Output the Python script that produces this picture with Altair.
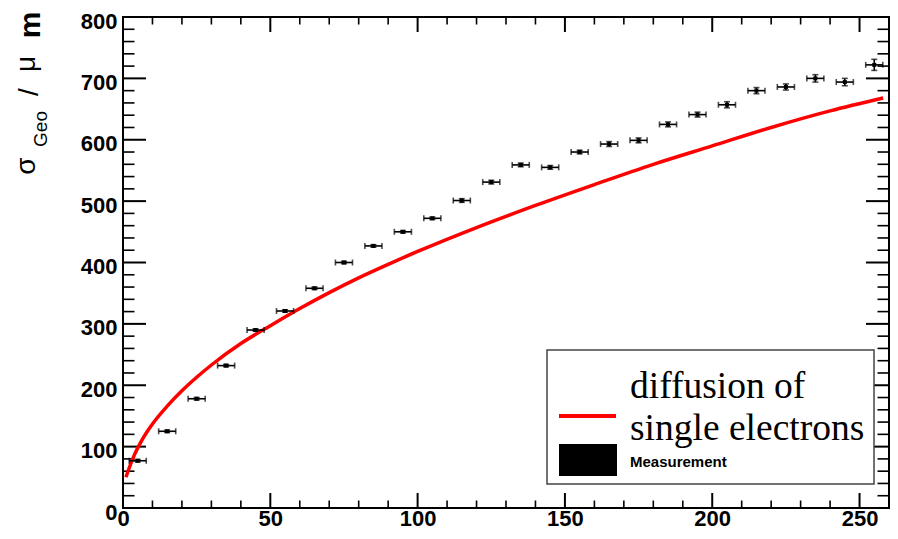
import altair as alt
import pandas as pd

# ---- data ----
meas_x = [5, 15, 25, 35, 45, 55, 65, 75, 85, 95, 105, 115, 125, 135, 145, 155,
          165, 175, 185, 195, 205, 215, 225, 235, 245, 255]
meas_y = [77, 125, 178, 232, 290, 321, 358, 400, 427, 450, 472, 501, 531, 559, 555, 580,
          593, 599, 625, 641, 657, 680, 686, 700, 694, 722]
meas_xerr = [2.9] * 26
meas_yerr = [2, 2, 2, 2, 2, 2, 2, 2, 2, 2, 2, 3, 3, 3, 3, 3, 4, 4, 4, 4, 5, 5, 5, 6, 6, 9]

curve_x = [1, 2, 4, 6, 8, 10, 15, 20, 25, 30, 40, 50, 60, 70, 80, 90, 100, 120, 140,
           160, 180, 200, 220, 240, 258]
curve_y = [50, 64, 88, 107, 123, 137, 166, 191, 213, 233, 268, 297, 325, 351, 375, 397,
           418, 457, 493, 527, 560, 590, 620, 647, 668]

x_major = [0, 50, 100, 150, 200, 250]
x_minor = [v for v in range(10, 261, 10) if v % 50 != 0]
y_major = [0, 100, 200, 300, 400, 500, 600, 700, 800]
y_minor = [v for v in range(20, 800, 20) if v % 100 != 0]

legend_line1 = "diffusion of"
legend_line2 = "single electrons"
legend_meas = "Measurement"

W, H = 766, 491
XDOM = [0, 260]
YDOM = [0, 800]

AX_X = alt.Axis(values=x_major, domain=False, ticks=False, grid=False, title=None,
                labelFont="Liberation Sans", labelFontSize=22, labelFontWeight="bold",
                labelColor="black", labelPadding=0, labelFlush=False)
AX_Y = alt.Axis(values=y_major, domain=False, ticks=False, grid=False, title=None,
                labelFont="Liberation Sans", labelFontSize=22, labelFontWeight="bold",
                labelColor="black", labelPadding=6, labelOffset=4, labelFlush=False)


def X(field):
    return alt.X(field, type="quantitative", scale=alt.Scale(domain=XDOM, nice=False, zero=False), axis=AX_X)


def X2(field):
    return alt.X2(field)


def Y(field):
    return alt.Y(field, type="quantitative", scale=alt.Scale(domain=YDOM, nice=False, zero=False), axis=AX_Y)


meas = pd.DataFrame({"x": meas_x, "y": meas_y, "xe": meas_xerr, "ye": meas_yerr})
base = alt.Chart(meas).transform_calculate(
    xlo="datum.x - datum.xe", xhi="datum.x + datum.xe",
    ylo="datum.y - datum.ye", yhi="datum.y + datum.ye")

hbar = base.mark_rule(color="black", strokeWidth=1.6).encode(x=X("xlo"), x2=X2("xhi"), y=Y("y"))
vbar = base.mark_rule(color="black", strokeWidth=1.6).encode(x=X("x"), y=Y("ylo"), y2=alt.Y2("yhi"))
capl = base.mark_tick(color="black", orient="vertical", size=6, thickness=1.6).encode(x=X("xlo"), y=Y("y"))
capr = base.mark_tick(color="black", orient="vertical", size=6, thickness=1.6).encode(x=X("xhi"), y=Y("y"))
capb = base.mark_tick(color="black", orient="horizontal", size=6, thickness=1.6).encode(x=X("x"), y=Y("ylo"))
capt = base.mark_tick(color="black", orient="horizontal", size=6, thickness=1.6).encode(x=X("x"), y=Y("yhi"))
dots = base.mark_square(color="black", size=16, opacity=1).encode(x=X("x"), y=Y("y"))

curve = alt.Chart(pd.DataFrame({"x": curve_x, "y": curve_y})).mark_line(
    color="#ff0000", strokeWidth=3.5, interpolate="monotone").encode(x=X("x"), y=Y("y"))


def xticks(vals, length, sw):
    d = alt.Chart(pd.DataFrame({"v": vals}))
    bot = d.mark_rule(color="black", strokeWidth=sw).encode(
        x=X("v"), y=alt.value(H), y2=alt.value(H - length))
    top = d.mark_rule(color="black", strokeWidth=sw).encode(
        x=X("v"), y=alt.value(0), y2=alt.value(length))
    return [bot, top]


def yticks(vals, length, sw):
    d = alt.Chart(pd.DataFrame({"v": vals}))
    left = d.mark_rule(color="black", strokeWidth=sw).encode(
        y=Y("v"), x=alt.value(0), x2=alt.value(length))
    right = d.mark_rule(color="black", strokeWidth=sw).encode(
        y=Y("v"), x=alt.value(W), x2=alt.value(W - length))
    return [left, right]


one = pd.DataFrame({"a": [0]})


def txt(s, x, y, size, font="Liberation Sans", weight="normal", angle=0, align="center",
        baseline="alphabetic"):
    return alt.Chart(one).mark_text(
        text=s, font=font, fontSize=size, fontWeight=weight, angle=angle, align=align,
        baseline=baseline, color="black").encode(x=alt.value(x), y=alt.value(y))


# legend box
leg_box = alt.Chart(one).mark_rect(fill="white", stroke="#444444", strokeWidth=1.5).encode(
    x=alt.value(424), x2=alt.value(751), y=alt.value(333), y2=alt.value(467))
leg_line = alt.Chart(one).mark_rule(color="#ff0000", strokeWidth=4).encode(
    x=alt.value(436), x2=alt.value(493), y=alt.value(399))
leg_rect = alt.Chart(one).mark_rect(fill="black").encode(
    x=alt.value(436), x2=alt.value(494), y=alt.value(427), y2=alt.value(459))
leg_t1 = txt(legend_line1, 507, 381, 37.5, font="Liberation Serif", align="left")
leg_t2 = txt(legend_line2, 507, 423, 37.5, font="Liberation Serif", align="left")
leg_t3 = txt(legend_meas, 507, 450, 15, weight="bold", align="left")

# y-axis title pieces (rotated)
t_sigma = txt("σ", -88, 149, 28, angle=270)
t_geo = txt("Geo", -76, 112, 19, angle=270)
t_slash = txt("/", -85, 75, 28, angle=270)
t_mu = txt("μ", -88, 47, 28, angle=270)
t_m = txt("m", -83, 8, 30, weight="bold", angle=270)

layers = (xticks(x_major, 15, 2) + xticks(x_minor, 7.5, 1.6) +
          yticks(y_major, 23, 2) + yticks(y_minor, 11.5, 1.6) +
          [curve, hbar, vbar, capl, capr, capb, capt, dots,
           leg_box, leg_line, leg_rect, leg_t1, leg_t2, leg_t3,
           t_sigma, t_geo, t_slash, t_mu, t_m])

chart = alt.layer(*layers).properties(
    width=W, height=H,
    padding={"left": 115, "top": 9, "right": 1, "bottom": 23},
    autosize=alt.AutoSizeParams(type="none"),
    background="white",
).configure_view(stroke="black", strokeWidth=2)

chart.save("out.html", embed_options={"renderer": "svg", "actions": False})
